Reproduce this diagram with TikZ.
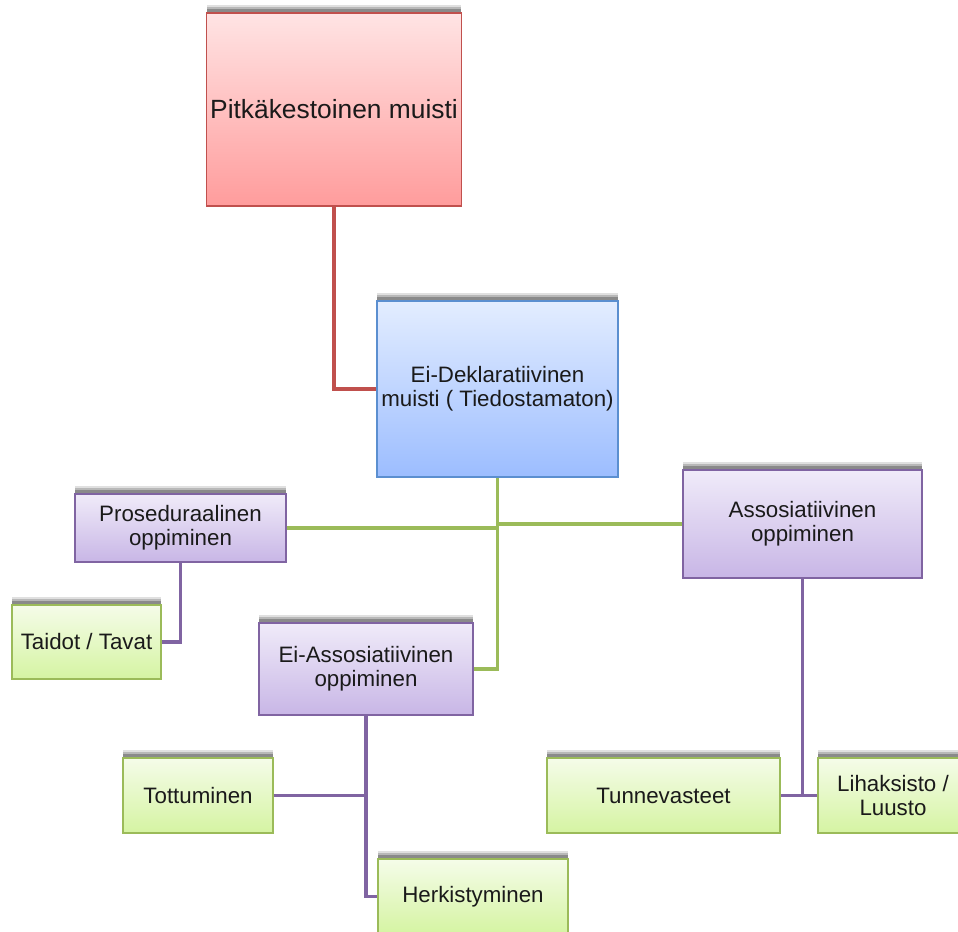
\documentclass[tikz,border=0pt]{standalone}
\usepackage{fontspec}
\setmainfont{Liberation Sans}
\usepackage{xcolor}
\definecolor{redtop}{HTML}{FFE4E4}
\definecolor{redbot}{HTML}{FF9C9C}
\definecolor{redline}{HTML}{C0504D}
\definecolor{bluetop}{HTML}{E3EDFF}
\definecolor{bluebot}{HTML}{9CBDFF}
\definecolor{blueline}{HTML}{5B8FD0}
\definecolor{purptop}{HTML}{F0EBF9}
\definecolor{purpbot}{HTML}{C8B6E6}
\definecolor{purpline}{HTML}{8064A2}
\definecolor{greentop}{HTML}{F5FCE9}
\definecolor{greenbot}{HTML}{D5F4A2}
\definecolor{greenline}{HTML}{9BBB59}
\definecolor{darktext}{HTML}{1A1A1A}
\usepackage{tikz}
\usetikzlibrary{positioning, calc, shadows}

\tikzset{
  box/.style={draw, line width=0.8pt, shading=axis, align=center, text=darktext,
    inner sep=2pt, font=\fontsize{12.7}{13.8}\selectfont,
    drop shadow={shadow xshift=0pt, shadow yshift=4.5pt, opacity=0.12, fill=black},
    drop shadow={shadow xshift=0pt, shadow yshift=3.4pt, opacity=0.18, fill=black},
    drop shadow={shadow xshift=0pt, shadow yshift=2.2pt, opacity=0.25, fill=black}},
  sz/.style 2 args={minimum width=#1*0.02cm, minimum height=#2*0.02cm},
  redbox/.style={box, draw=redline, top color=redtop, bottom color=redbot},
  bluebox/.style={box, draw=blueline, top color=bluetop, bottom color=bluebot},
  purpbox/.style={box, draw=purpline, top color=purptop, bottom color=purpbot},
  greenbox/.style={box, draw=greenline, top color=greentop, bottom color=greenbot},
  link/.style={line width=2.1pt}
}

\begin{document}
\begin{tikzpicture}[x=0.02cm, y=-0.02cm]
  \useasboundingbox (0,0) rectangle (958,932);

  % Top level
  \node[redbox, sz={252}{193}, font=\fontsize{15}{18}\selectfont] (ltm) at (334,109.5) {Pitkäkestoinen muisti};
  \node[bluebox, sz={241}{176}] (ndecl) at (497.5,389) {Ei-Deklaratiivinen\\muisti ( Tiedostamaton)};

  % Learning types
  \node[purpbox, sz={211}{68}] (proc) at (180.5,528) {Proseduraalinen\\oppiminen};
  \node[purpbox, sz={214}{92}] (nassoc) at (366,669) {Ei-Assosiatiivinen\\oppiminen};
  \node[purpbox, sz={239}{108}] (assoc) at (802.5,524) {Assosiatiivinen\\oppiminen};

  % Leaves
  \node[greenbox, sz={149}{74}] (skills) at (86.5,642) {Taidot / Tavat};
  \node[greenbox, sz={150}{75}] (habit) at (198,795.5) {Tottuminen};
  \node[greenbox, sz={190}{75}] (sens) at (473,896.5) {Herkistyminen};
  \node[greenbox, sz={233}{75}] (emot) at (663.5,795.5) {Tunnevasteet};
  \node[greenbox, sz={150}{75}] (musc) at (893,795.5) {Lihaksisto /\\Luusto};

  % Connectors
  \draw[link, redline] (ltm.south) |- (ndecl.west);
  \draw[link, greenline] (ndecl.south) |- (nassoc.east);
  \draw[link, greenline] (proc.east) -- (proc.east -| ndecl.south);
  \draw[link, greenline] (assoc.west) -- (assoc.west -| ndecl.south);
  \draw[link, purpline] (proc.south) |- (skills.east);
  \draw[link, purpline] (nassoc.south) |- (sens.west);
  \draw[link, purpline] (habit.east) -- (habit.east -| nassoc.south);
  \draw[link, purpline] (assoc.south) |- (emot.east);
  \draw[link, purpline] (musc.west) -- (musc.west -| assoc.south);
\end{tikzpicture}
\end{document}
